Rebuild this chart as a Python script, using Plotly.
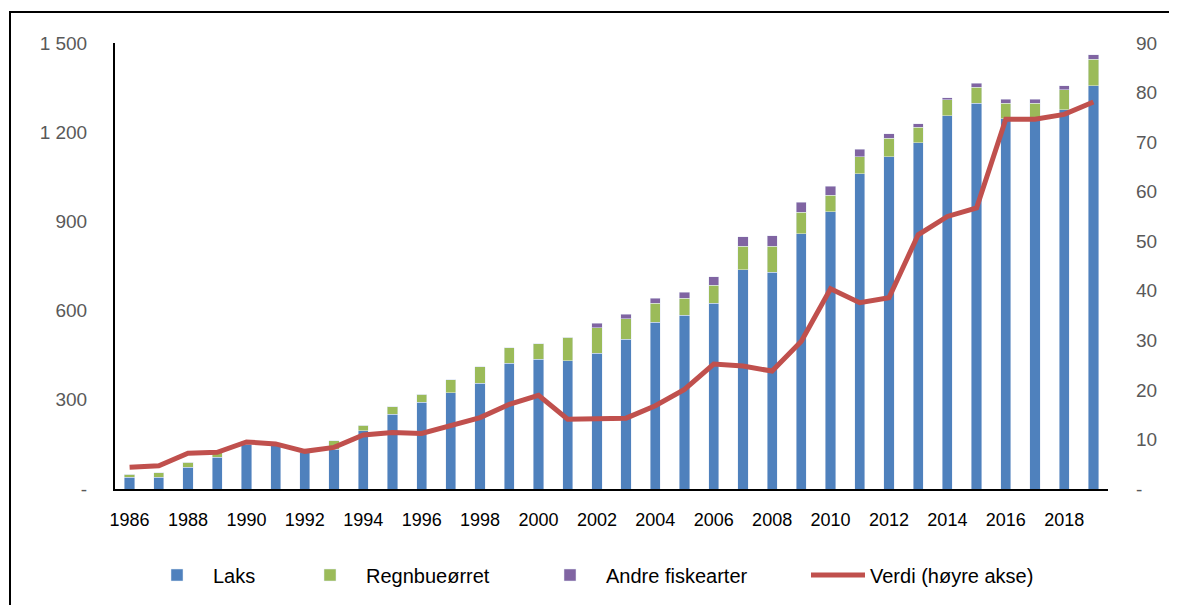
import plotly.graph_objects as go

years = list(range(1986, 2020))
laks = [39, 40, 73, 106, 150, 148, 123, 134, 196, 252, 291, 324, 356, 423, 436, 431, 456, 503, 561, 584,
        624, 738, 729, 858, 932, 1060, 1118, 1165, 1255, 1298, 1245, 1240, 1275, 1356]
regnbue = [11, 14, 17, 17, 10, 6, 4, 28, 19, 24, 28, 43, 56, 52, 53, 80, 87, 70, 63, 57,
           61, 78, 87, 73, 56, 58, 62, 51, 54, 53, 53, 58, 67, 89]
andre = [0, 0, 0, 0, 0, 0, 0, 0, 0, 0, 0, 0, 0, 0, 0, 0, 14, 14, 17, 21,
         29, 32, 36, 34, 30, 25, 14, 12, 7, 14, 13, 13, 14, 15]
verdi = [4.4, 4.7, 7.2, 7.4, 9.5, 9.1, 7.6, 8.4, 10.9, 11.4, 11.2, 12.8, 14.4, 17.1, 18.9, 14.1, 14.1, 14.3,
         16.8, 20.1, 25.2, 24.8, 23.8, 29.8, 40.4, 37.6, 38.6, 51.3, 55.0, 56.7, 74.6, 74.6, 75.6, 78.1]

left_ticks = [0, 300, 600, 900, 1200, 1500]
left_text = ["-", "300", "600", "900", "1 200", "1 500"]
right_ticks = [0, 10, 20, 30, 40, 50, 60, 70, 80, 90]
right_text = ["-", "10", "20", "30", "40", "50", "60", "70", "80", "90"]
x_ticks = list(range(1986, 2020, 2))

FONT = "Liberation Sans"
OFF = 8  # browser body margin
W, H = 1177 - OFF, 605 - OFF
# plot area in page pixels: x 115..1108, y 43..490
L = 115 - OFF
T = 43 - OFF
R = W - (1108 - OFF)
B = H - (490 - OFF)
pw = W - L - R
ph = H - T - B


def px_x(p):
    return (p - OFF - L) / pw


def px_y(p):
    return (H - B - (p - OFF)) / ph


fig = go.Figure()
fig.add_trace(go.Bar(x=years, y=laks, name="Laks", marker_color="#4F81BD", legend="legend"))
fig.add_trace(go.Bar(x=years, y=regnbue, name="Regnbueørret", marker_color="#9BBB59", legend="legend2"))
fig.add_trace(go.Bar(x=years, y=andre, name="Andre fiskearter", marker_color="#8064A2", legend="legend3"))
fig.add_trace(go.Scatter(x=years, y=verdi, name="Verdi (høyre akse)", yaxis="y2", mode="lines",
                         line=dict(color="#C0504D", width=5), legend="legend4"))

leg_y = px_y(575)


def leg(x_page, iw):
    return dict(orientation="h", x=px_x(x_page), xanchor="left", y=leg_y, yanchor="middle",
                font=dict(size=20, color="black", family=FONT), itemwidth=iw,
                bgcolor="rgba(0,0,0,0)")


fig.update_layout(
    width=W, height=H,
    margin=dict(l=L, r=R, t=T, b=B),
    paper_bgcolor="white", plot_bgcolor="white",
    barmode="stack", bargap=0.65,
    font=dict(family=FONT, size=18, color="#595959"),
    xaxis=dict(range=[1985.5, 2019.5], tickvals=x_ticks, showgrid=False, zeroline=False,
               showline=True, linecolor="black", linewidth=2,
               tickfont=dict(color="black", size=18), ticks="", ticklabelstandoff=13),
    yaxis=dict(range=[0, 1500], tickvals=left_ticks, ticktext=left_text, showgrid=False,
               zeroline=False, showline=True, linecolor="black", linewidth=2, ticks="",
               ticklabelstandoff=22, tickfont=dict(size=19, color="#595959")),
    yaxis2=dict(range=[0, 90], tickvals=right_ticks, ticktext=right_text, overlaying="y", side="right",
                showgrid=False, zeroline=False, showline=False, ticks="", ticklabelstandoff=27,
                tickfont=dict(size=19, color="#595959")),
    legend=leg(141, 62),
    legend2=leg(294, 62),
    legend3=leg(534, 62),
    legend4=leg(806, 54),
    showlegend=True,
    shapes=[dict(type="rect", xref="paper", yref="paper",
                 x0=px_x(10), x1=px_x(1190), y0=px_y(12), y1=px_y(620),
                 line=dict(color="black", width=2), fillcolor="rgba(0,0,0,0)", layer="below")],
)

fig.write_html("out.html")
